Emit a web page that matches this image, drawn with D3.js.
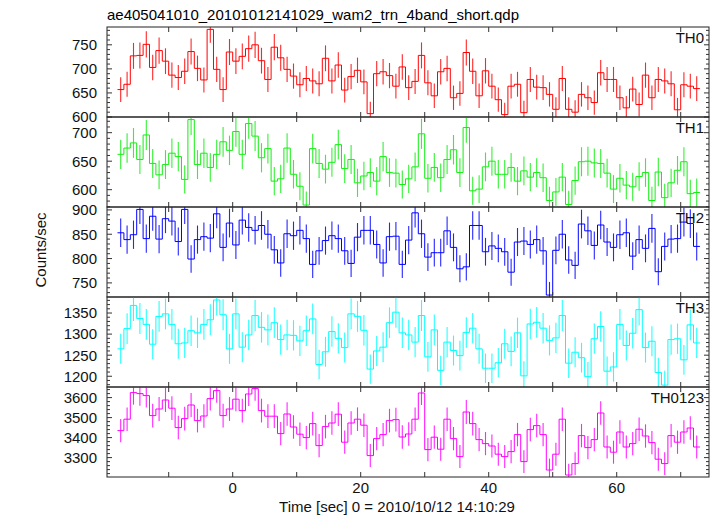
<!DOCTYPE html>
<html><head><meta charset="utf-8">
<script src="https://cdn.jsdelivr.net/npm/d3@7"></script>
<style>body{margin:0;background:#fff} text{font-family:"Liberation Sans",Arial,Helvetica,sans-serif}</style>
</head><body><svg id="c" width="717" height="516"></svg>
<script>
const title = "ae405041010_20101012141029_wam2_trn_4band_short.qdp";
const xLabel = "Time [sec] 0 = 2010/10/12 14:10:29";
const yLabel = "Counts/sec";
const binStart = -17.5, binWidth = 1;

const th0 = [657,668,727,728,751,703,738,716,687,682,695,736,701,677,782,699,657,735,716,726,
  742,750,717,678,745,723,699,685,667,680,675,669,722,675,708,656,684,697,673,607,
  690,694,686,664,704,661,674,728,671,644,694,701,640,649,734,695,644,696,664,636,
  605,664,668,609,678,662,661,647,616,680,616,610,647,640,630,692,678,678,640,619,
  658,626,687,640,678,675,669,615,667,664,659];
const th1 = [662,673,682,653,696,646,626,644,664,658,618,723,644,664,639,662,684,669,702,662,
  716,694,656,672,615,619,673,627,606,573,672,646,636,648,679,637,653,612,624,630,
  615,658,630,629,609,619,640,698,620,639,621,653,670,630,709,598,601,640,650,627,
  627,639,615,633,622,630,621,581,596,622,574,616,649,650,647,646,629,601,620,608,
  605,623,630,581,631,586,612,634,649,593,595];
const th2 = [853,839,849,901,841,887,840,882,877,835,901,799,839,845,842,892,823,873,828,879,
  864,858,868,850,818,791,851,847,858,841,788,816,837,847,841,816,790,844,858,858,
  829,791,845,846,788,838,894,851,803,812,812,857,823,779,783,868,868,814,826,821,
  814,772,834,836,829,839,816,725,817,850,797,786,871,857,827,869,834,823,849,853,
  805,839,821,862,773,825,840,841,875,872,825];
const th3 = [1265,1313,1368,1337,1323,1276,1342,1348,1323,1277,1279,1308,1303,1323,1334,1381,1346,1265,1348,1269,
  1298,1344,1316,1310,1327,1287,1298,1297,1284,1308,1336,1228,1258,1306,1290,1268,1348,1342,1309,1217,
  1260,1269,1327,1352,1303,1298,1281,1344,1246,1310,1214,1281,1261,1249,1304,1314,1265,1219,1219,1232,
  1277,1259,1303,1201,1324,1328,1314,1285,1291,1344,1231,1257,1244,1199,1289,1318,1212,1222,1323,1273,
  1302,1358,1268,1283,1209,1179,1287,1289,1239,1322,1279];
const th0123 = [3435,3492,3625,3620,3610,3510,3543,3588,3547,3450,3495,3563,3485,3508,3595,3635,3510,3543,3592,3535,
  3618,3645,3535,3507,3507,3420,3518,3453,3417,3400,3470,3360,3455,3473,3517,3377,3473,3492,3462,3310,
  3395,3415,3485,3490,3403,3418,3492,3623,3340,3402,3342,3492,3395,3305,3528,3470,3390,3370,3358,3317,
  3305,3330,3415,3280,3440,3460,3415,3238,3317,3492,3213,3270,3410,3350,3390,3523,3353,3327,3428,3353,
  3370,3442,3408,3375,3292,3270,3410,3377,3428,3448,3353];

const panelNames = ["TH0","TH1","TH2","TH3","TH0123"];
const panelSeries = [th0, th1, th2, th3, th0123];
const panelColors = ["#ff0000","#11ee11","#0000ff","#00ffff","#ff00ff"];
const yDomains = [[600,787],[569.6,727.5],[721,906],[1174.5,1388],[3203,3653]];
const yTicks = [[600,650,700,750],[600,650,700],[750,800,850,900],[1200,1250,1300,1350],[3300,3400,3500,3600]];
const yMinorStep = [10,10,10,10,20];
const xMajor = [-10,0,10,20,30,40,50,60,70];
const xLabels = [0,20,40,60];

const L = 107, R = 709, T = 27, PH = 90;
const svg = d3.select("#c");
const x = d3.scaleLinear().domain([-19.64, 74.42]).range([L, R]);
const axisCol = "#333";

svg.append("text").attr("x", L).attr("y", 20).attr("font-size", 15).text(title);

panelSeries.forEach((vals, p) => {
  const top = T + p*PH, bot = top + PH;
  const y = d3.scaleLinear().domain(yDomains[p]).range([bot, top]);
  const g = svg.append("g");
  const cid = "clip" + p;
  svg.append("clipPath").attr("id", cid).append("rect")
    .attr("x", L).attr("y", top).attr("width", R - L).attr("height", PH);
  const data = vals.map((v, i) => ({t: binStart + i*binWidth, v}));
  const pts = [];
  data.forEach(d => { pts.push([d.t - binWidth/2, d.v]); pts.push([d.t + binWidth/2, d.v]); });
  const dg = g.append("g").attr("clip-path", `url(#${cid})`);
  dg.selectAll("line.err").data(data).join("line")
    .attr("x1", d => x(d.t)).attr("x2", d => x(d.t))
    .attr("y1", d => y(d.v - Math.sqrt(d.v))).attr("y2", d => y(d.v + Math.sqrt(d.v)))
    .attr("stroke", panelColors[p]).attr("stroke-width", 1.1).attr("stroke-opacity", 0.85);
  dg.append("path").attr("d", d3.line().x(d => x(d[0])).y(d => y(d[1]))(pts))
    .attr("fill", "none").attr("stroke", panelColors[p]).attr("stroke-width", 1);

  g.append("rect").attr("x", L).attr("y", top).attr("width", R - L).attr("height", PH)
    .attr("fill", "none").attr("stroke", "#222").attr("stroke-width", 1);
  xMajor.forEach(t => {
    const xx = x(t);
    g.append("line").attr("x1", xx).attr("x2", xx).attr("y1", top).attr("y2", top + 5).attr("stroke", axisCol);
    g.append("line").attr("x1", xx).attr("x2", xx).attr("y1", bot).attr("y2", bot - 5).attr("stroke", axisCol);
  });
  const [d0, d1] = yDomains[p];
  const ms = yMinorStep[p];
  for (let v = Math.ceil(d0/ms)*ms; v <= d1; v += ms) {
    const yy = y(v);
    const major = (ms === 10 && v % 50 === 0) || (ms === 20 && v % 100 === 0);
    const len = major ? 5 : 3;
    g.append("line").attr("x1", L).attr("x2", L + len).attr("y1", yy).attr("y2", yy).attr("stroke", axisCol);
    g.append("line").attr("x1", R).attr("x2", R - len).attr("y1", yy).attr("y2", yy).attr("stroke", axisCol);
  }
  yTicks[p].forEach(v => {
    svg.append("text").attr("x", 97).attr("y", y(v)).attr("dy", "0.36em")
      .attr("text-anchor", "end").attr("font-size", 15).attr("fill", "#111").text(v);
  });
  svg.append("text").attr("x", 704).attr("y", top + 16).attr("text-anchor", "end")
    .attr("font-size", 15).attr("fill", "#111").text(panelNames[p]);
});

const bottom = T + 5*PH;
xLabels.forEach(t => {
  svg.append("text").attr("x", x(t)).attr("y", bottom + 16).attr("text-anchor", "middle")
    .attr("font-size", 15).attr("fill", "#111").text(t);
});
svg.append("text").attr("x", 397).attr("y", 512).attr("text-anchor", "middle")
  .attr("font-size", 15).attr("fill", "#111").text(xLabel);
svg.append("text").attr("transform", "translate(46,250) rotate(-90)").attr("text-anchor", "middle")
  .attr("font-size", 15).attr("fill", "#111").text(yLabel);
</script></body></html>
